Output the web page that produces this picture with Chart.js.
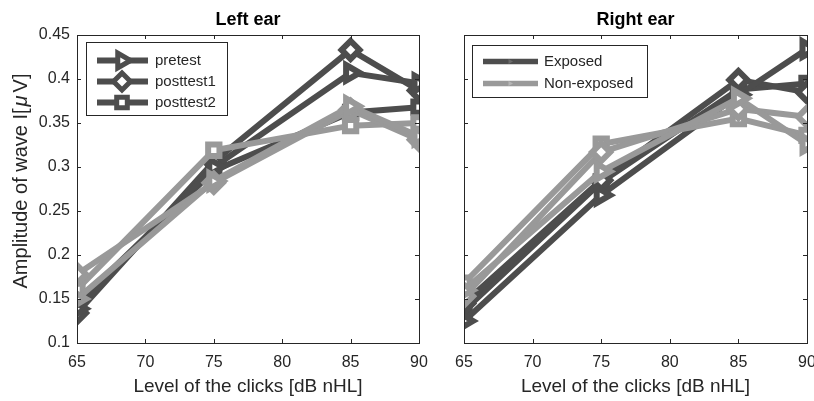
<!DOCTYPE html>
<html>
<head>
<meta charset="utf-8">
<script src="https://cdn.jsdelivr.net/npm/chart.js@4.4.1/dist/chart.umd.min.js"></script>
<style>
  html, body { margin: 0; padding: 0; background: #ffffff; }
  #wrap { position: relative; width: 814px; height: 401px; overflow: hidden; }
  #leftCanvas { position: absolute; left: 0; top: 0; }
  #rightCanvas { position: absolute; left: 440px; top: 0; }
</style>
</head>
<body>
<div id="wrap">
  <canvas id="leftCanvas" width="440" height="401"></canvas>
  <canvas id="rightCanvas" width="390" height="401"></canvas>
</div>
<script>
// ---------- DATA ----------
const levels = [65, 75, 85, 90];
const xTicks = [65, 70, 75, 80, 85, 90];
const yTicks = [0.1, 0.15, 0.2, 0.25, 0.3, 0.35, 0.4, 0.45];

// Left ear
const leftPreExp    = [0.139, 0.300, 0.407, 0.395];
const leftPost1Exp  = [0.134, 0.306, 0.433, 0.387];
const leftPost2Exp  = [0.145, 0.296, 0.362, 0.368];
const leftPreNon    = [0.150, 0.284, 0.369, 0.335];
const leftPost1Non  = [0.178, 0.282, 0.365, 0.331];
const leftPost2Non  = [0.161, 0.319, 0.347, 0.350];

// Right ear
const rightPreExp   = [0.125, 0.268, 0.382, 0.434];
const rightPost1Exp = [0.145, 0.285, 0.399, 0.385];
const rightPost2Exp = [0.137, 0.283, 0.388, 0.395];
const rightPreNon   = [0.160, 0.295, 0.378, 0.326];
const rightPost1Non = [0.153, 0.317, 0.366, 0.357];
const rightPost2Non = [0.168, 0.326, 0.355, 0.336];

const sessionNames = ['pretest', 'posttest1', 'posttest2'];
const groupNames = ['Exposed', 'Non-exposed'];

// ---------- STYLE ----------
const DARK = '#4d4d4d';
const LIGHT = '#999999';
const AXIS = '#262626';
const FONT = '"Liberation Sans", Arial, Helvetica, sans-serif';

const markerStyles = [
  { pointStyle: 'triangle', rotation: 90, radius: 9 },
  { pointStyle: 'rectRot', rotation: 0, radius: 9 },
  { pointStyle: 'rect', rotation: 0, radius: 8 }
];

function ds(values, color, m) {
  return {
    data: levels.map((x, i) => ({ x: x, y: values[i] })),
    borderColor: color,
    backgroundColor: '#ffffff',
    borderWidth: 6,
    pointStyle: m.pointStyle,
    pointRotation: m.rotation,
    pointRadius: m.radius,
    pointBorderWidth: 6,
    pointBorderColor: color,
    pointBackgroundColor: '#ffffff',
    pointHoverRadius: m.radius,
    tension: 0,
    fill: false
  };
}

// Box with inward ticks on all four sides
const boxPlugin = {
  id: 'boxPlugin',
  afterDatasetsDraw(chart) {
    const { ctx, chartArea: a, scales } = chart;
    ctx.save();
    ctx.strokeStyle = AXIS;
    ctx.lineWidth = 1;
    const tl = 4;
    ctx.beginPath();
    xTicks.forEach(v => {
      const px = Math.round(scales.x.getPixelForValue(v)) + 0.5;
      ctx.moveTo(px, a.bottom); ctx.lineTo(px, a.bottom - tl);
      ctx.moveTo(px, a.top); ctx.lineTo(px, a.top + tl);
    });
    yTicks.forEach(v => {
      const py = Math.round(scales.y.getPixelForValue(v)) + 0.5;
      ctx.moveTo(a.left, py); ctx.lineTo(a.left + tl, py);
      ctx.moveTo(a.right, py); ctx.lineTo(a.right - tl, py);
    });
    ctx.stroke();
    ctx.strokeRect(Math.round(a.left) + 0.5, Math.round(a.top) + 0.5,
                   Math.round(a.right - a.left), Math.round(a.bottom - a.top));
    ctx.restore();
  }
};

// Title + legend drawn inside the plot area
function overlayPlugin(title, legendFn, yTitle) {
  return {
    id: 'overlay',
    afterDraw(chart) {
      const { ctx, chartArea: a } = chart;
      ctx.save();
      ctx.fillStyle = '#000000';
      ctx.font = 'bold 18px ' + FONT;
      ctx.textAlign = 'center';
      ctx.textBaseline = 'middle';
      ctx.fillText(title, (a.left + a.right) / 2, 20);
      ctx.restore();
      legendFn(ctx, a);
      if (yTitle) drawYTitle(ctx, 21, 181);
    }
  };
}

function drawYTitle(ctx, cx, cy) {
  const size = 20;
  const parts = [
    { t: 'Amplitude of wave I[', f: size + 'px ' + FONT, gapAfter: 2 },
    { t: '\u03BC', f: 'italic ' + size + 'px ' + FONT, gapAfter: 3 },
    { t: 'V]', f: size + 'px ' + FONT, gapAfter: 0 }
  ];
  ctx.save();
  let total = 0;
  parts.forEach(p => { ctx.font = p.f; p.w = ctx.measureText(p.t).width; total += p.w + p.gapAfter; });
  ctx.translate(cx, cy);
  ctx.rotate(-Math.PI / 2);
  ctx.fillStyle = AXIS;
  ctx.textAlign = 'left';
  ctx.textBaseline = 'middle';
  let x = -total / 2;
  parts.forEach(p => { ctx.font = p.f; ctx.fillText(p.t, x, 0); x += p.w + p.gapAfter; });
  ctx.restore();
}

function drawMarker(ctx, style, x, y, r, color) {
  ctx.save();
  ctx.lineWidth = 5;
  ctx.strokeStyle = color;
  ctx.fillStyle = '#ffffff';
  Chart.helpers.drawPoint(ctx, { pointStyle: style.pointStyle, rotation: style.rotation, radius: r, borderWidth: 5 }, x, y);
  ctx.restore();
}

function leftLegend(ctx, a) {
  const bx = 86.5 , by = 42.5, bw = 141, bh = 73;
  ctx.save();
  ctx.fillStyle = '#ffffff';
  ctx.fillRect(bx, by, bw, bh);
  ctx.strokeStyle = '#262626';
  ctx.lineWidth = 1;
  ctx.strokeRect(bx, by, bw, bh);
  const rows = [60.5, 81.5, 102.5];
  sessionNames.forEach((name, i) => {
    ctx.strokeStyle = DARK;
    ctx.lineWidth = 6;
    ctx.beginPath();
    ctx.moveTo(97, rows[i]); ctx.lineTo(148, rows[i]);
    ctx.stroke();
    const m = markerStyles[i];
    drawMarker(ctx, m, 122, rows[i], m.radius - 0.5, DARK);
    ctx.fillStyle = AXIS;
    ctx.font = '15px ' + FONT;
    ctx.textAlign = 'left';
    ctx.textBaseline = 'middle';
    ctx.fillText(name, 155, rows[i]);
  });
  ctx.restore();
}

function rightLegend(ctx, a) {
  // coordinates relative to the right canvas (offset 440)
  const bx = 32.5, by = 45.5, bw = 175, bh = 52;
  ctx.save();
  ctx.fillStyle = '#ffffff';
  ctx.fillRect(bx, by, bw, bh);
  ctx.strokeStyle = '#262626';
  ctx.lineWidth = 1;
  ctx.strokeRect(bx, by, bw, bh);
  const rows = [61.5, 83.5];
  const cols = [DARK, LIGHT];
  groupNames.forEach((name, i) => {
    ctx.strokeStyle = cols[i];
    ctx.lineWidth = 5.5;
    ctx.beginPath();
    ctx.moveTo(43, rows[i]); ctx.lineTo(98, rows[i]);
    ctx.stroke();
    ctx.fillStyle = i === 0 ? '#6a6a6a' : '#b5b5b5';
    ctx.beginPath();
    ctx.moveTo(73, rows[i]); ctx.lineTo(68.5, rows[i] - 2.5); ctx.lineTo(68.5, rows[i] + 2.5);
    ctx.closePath();
    ctx.fill();
    ctx.fillStyle = AXIS;
    ctx.font = '15px ' + FONT;
    ctx.textAlign = 'left';
    ctx.textBaseline = 'middle';
    ctx.fillText(name, 104, rows[i]);
  });
  ctx.restore();
}

function makeOptions(showY, yWidth, rightPad) {
  return {
    responsive: false,
    animation: false,
    events: [],
    layout: { padding: { top: 35, right: rightPad, left: 0, bottom: 0 } },
    plugins: { legend: { display: false }, title: { display: false }, tooltip: { enabled: false } },
    scales: {
      x: {
        type: 'linear',
        min: 65, max: 90,
        afterBuildTicks(s) { s.ticks = xTicks.map(v => ({ value: v })); },
        afterFit(s) { s.height = 58; s.paddingLeft = 0; s.paddingRight = 0; },
        grid: { display: false, drawTicks: false },
        border: { display: false },
        ticks: {
          padding: 10,
          color: AXIS,
          font: { family: FONT, size: 16 },
          maxRotation: 0,
          autoSkip: false,
          callback: v => String(v)
        },
        title: {
          display: true,
          text: 'Level of the clicks [dB nHL]',
          color: AXIS,
          font: { family: FONT, size: 19 },
          padding: { top: 0, bottom: 3 }
        }
      },
      y: {
        type: 'linear',
        min: 0.1, max: 0.45,
        afterBuildTicks(s) { s.ticks = yTicks.map(v => ({ value: v })); },
        afterFit(s) { s.width = yWidth; s.paddingTop = 0; s.paddingBottom = 0; },
        grid: { display: false, drawTicks: false },
        border: { display: false },
        ticks: {
          display: showY,
          padding: 7,
          color: AXIS,
          font: { family: FONT, size: 16 },
          autoSkip: false,
          callback: v => String(+v.toFixed(2))
        },
        title: { display: false }
      }
    }
  };
}

function datasetsFor(pre, p1, p2, preN, p1N, p2N) {
  // light series first so they are drawn on top
  return [
    ds(preN, LIGHT, markerStyles[0]),
    ds(p1N, LIGHT, markerStyles[1]),
    ds(p2N, LIGHT, markerStyles[2]),
    ds(pre, DARK, markerStyles[0]),
    ds(p1, DARK, markerStyles[1]),
    ds(p2, DARK, markerStyles[2])
  ];
}

new Chart(document.getElementById('leftCanvas'), {
  type: 'line',
  data: { datasets: datasetsFor(leftPreExp, leftPost1Exp, leftPost2Exp, leftPreNon, leftPost1Non, leftPost2Non) },
  options: makeOptions(true, 77, 21),
  plugins: [boxPlugin, overlayPlugin('Left ear', leftLegend, true)]
});

new Chart(document.getElementById('rightCanvas'), {
  type: 'line',
  data: { datasets: datasetsFor(rightPreExp, rightPost1Exp, rightPost2Exp, rightPreNon, rightPost1Non, rightPost2Non) },
  options: makeOptions(false, 24, 23),
  plugins: [boxPlugin, overlayPlugin('Right ear', rightLegend, false)]
});
</script>
</body>
</html>
